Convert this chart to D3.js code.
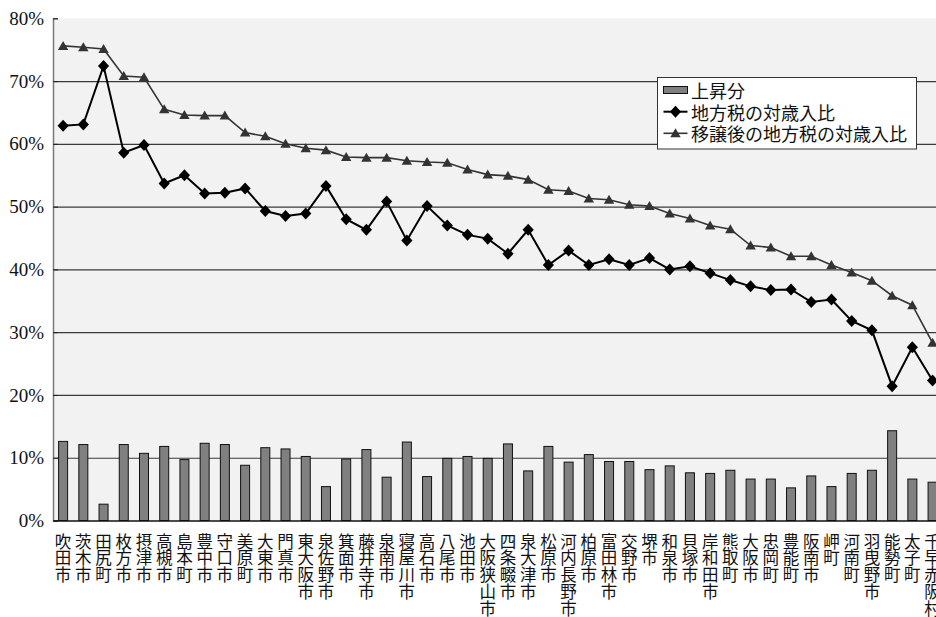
<!DOCTYPE html>
<html>
<head>
<meta charset="utf-8">
<script src="https://cdn.jsdelivr.net/npm/d3@7"></script>
<style>
  html, body { margin: 0; padding: 0; background: #fff; }
  svg { display: block; }
</style>
</head>
<body>
<div id="chart"></div>
<script>
// Municipalities in Osaka prefecture, ordered by the post-transfer ratio
const categories = [
  "吹田市", "茨木市", "田尻町", "枚方市", "摂津市", "高槻市", "島本町", "豊中市",
  "守口市", "美原町", "大東市", "門真市", "東大阪市", "泉佐野市", "箕面市", "藤井寺市",
  "泉南市", "寝屋川市", "高石市", "八尾市", "池田市", "大阪狭山市", "四条畷市", "泉大津市",
  "松原市", "河内長野市", "柏原市", "富田林市", "交野市", "堺市", "和泉市", "貝塚市",
  "岸和田市", "熊取町", "大阪市", "忠岡町", "豊能町", "阪南市", "岬町", "河南町",
  "羽曳野市", "能勢町", "太子町", "千早赤阪村"
];

// 上昇分 (percentage points)
const increase = [
  12.6, 12.1, 2.6, 12.1, 10.7, 11.8, 9.7, 12.3,
  12.1, 8.8, 11.6, 11.4, 10.2, 5.4, 9.8, 11.3,
  6.9, 12.5, 7.0, 9.9, 10.2, 9.9, 12.2, 7.9,
  11.8, 9.3, 10.5, 9.4, 9.4, 8.1, 8.7, 7.6,
  7.5, 8.0, 6.6, 6.6, 5.2, 7.1, 5.4, 7.5,
  8.0, 14.3, 6.6, 6.1
];

// 地方税の対歳入比 (%)
const localTaxRatio = [
  62.9, 63.1, 72.4, 58.6, 59.8, 53.7, 55.0, 52.1,
  52.2, 52.9, 49.3, 48.5, 48.9, 53.3, 48.0, 46.3,
  50.8, 44.6, 50.1, 47.0, 45.5, 44.9, 42.5, 46.3,
  40.7, 43.0, 40.7, 41.6, 40.7, 41.8, 40.0, 40.5,
  39.4, 38.3, 37.3, 36.7, 36.8, 34.8, 35.2, 31.8,
  30.3, 21.4, 27.6, 22.3
];

// 移譲後の地方税の対歳入比 (%)
const afterTransferRatio = [
  75.6, 75.4, 75.1, 70.8, 70.6, 65.5, 64.6, 64.5,
  64.5, 61.8, 61.2, 60.0, 59.3, 59.0, 57.9, 57.8,
  57.8, 57.3, 57.1, 57.0, 55.9, 55.1, 54.9, 54.3,
  52.7, 52.5, 51.3, 51.1, 50.3, 50.1, 48.9, 48.1,
  47.0, 46.4, 43.8, 43.5, 42.1, 42.1, 40.7, 39.5,
  38.2, 35.8, 34.3, 28.3
];

const yTicks = [0, 10, 20, 30, 40, 50, 60, 70, 80];
const gridTicks = [10, 20, 30, 40, 50, 60, 70];

const legendLabels = ["上昇分", "地方税の対歳入比", "移譲後の地方税の対歳入比"];

const W = 936, H = 617;
const plotLeft = 53, plotTop = 18.3, plotBottom = 520.5;
const bandStep = 20.22;
const plotRight = plotLeft + categories.length * bandStep;

const jpFont = "'Noto Sans CJK JP', 'Noto Sans', sans-serif";
const numFont = "'Liberation Serif', 'DejaVu Serif', serif";

const svg = d3.select("#chart").append("svg")
  .attr("width", W).attr("height", H)
  .attr("viewBox", `0 0 ${W} ${H}`);

const x = d3.scaleBand()
  .domain(categories)
  .range([plotLeft, plotRight])
  .padding(0);

const y = d3.scaleLinear()
  .domain([0, 80])
  .range([plotBottom, plotTop]);

// plot background
svg.append("rect")
  .attr("x", plotLeft).attr("y", plotTop)
  .attr("width", plotRight - plotLeft)
  .attr("height", plotBottom - plotTop)
  .attr("fill", "#f2f2f2");

// horizontal gridlines
svg.append("g")
  .attr("transform", `translate(${plotLeft},0)`)
  .call(d3.axisLeft(y).tickValues(gridTicks).tickSize(-(plotRight - plotLeft)).tickFormat(""))
  .call(g => g.select(".domain").remove())
  .call(g => g.selectAll(".tick line").attr("stroke", "#3a3a3a").attr("stroke-width", 1.2));

// bars
const cx = d => x(d) + x.bandwidth() / 2;
const barW = 9;
svg.append("g")
  .selectAll("rect")
  .data(categories)
  .join("rect")
  .attr("x", d => cx(d) - barW / 2)
  .attr("y", (d, i) => y(increase[i]))
  .attr("width", barW)
  .attr("height", (d, i) => y(0) - y(increase[i]))
  .attr("fill", "#808080")
  .attr("stroke", "#111")
  .attr("stroke-width", 1);

// y axis
const yAxis = svg.append("g")
  .attr("transform", `translate(${plotLeft},0)`)
  .call(d3.axisLeft(y).tickValues(yTicks).tickSize(-5).tickPadding(9).tickFormat(d => d + "%"));
yAxis.select(".domain").attr("stroke", "#7a7a7a").attr("stroke-width", 1.5);
yAxis.selectAll(".tick line").attr("stroke", "#222");
yAxis.selectAll(".tick text")
  .attr("font-family", numFont)
  .attr("font-size", 19)
  .attr("fill", "#111");

// x axis baseline
svg.append("g")
  .attr("transform", `translate(0,${plotBottom})`)
  .call(d3.axisBottom(x).tickSize(0).tickFormat(""))
  .call(g => g.select(".domain").attr("stroke", "#111").attr("stroke-width", 1.5));

// vertical category labels, one character per row
const labelTop = 540.7, rowStep = 16.7;
svg.append("g")
  .selectAll("text")
  .data(categories)
  .join("text")
  .attr("font-family", jpFont)
  .attr("font-size", 16.5)
  .attr("fill", "#111")
  .attr("text-anchor", "middle")
  .each(function(d) {
    const t = d3.select(this);
    Array.from(d).forEach((ch, k) => {
      t.append("tspan")
        .attr("x", cx(d))
        .attr("y", labelTop + k * rowStep)
        .attr("dominant-baseline", "central")
        .text(ch);
    });
  });

// line series
const lineGen = vals => d3.line()
  .x((d, i) => cx(categories[i]))
  .y(d => y(d))(vals);

svg.append("path")
  .attr("d", lineGen(afterTransferRatio))
  .attr("fill", "none")
  .attr("stroke", "#333")
  .attr("stroke-width", 1.6);

svg.append("path")
  .attr("d", lineGen(localTaxRatio))
  .attr("fill", "none")
  .attr("stroke", "#000")
  .attr("stroke-width", 2);

const trianglePath = "M0,-5 L5.2,4 L-5.2,4 Z";
const diamondPath = "M0,-6 L5.6,0 L0,6 L-5.6,0 Z";

svg.append("g")
  .selectAll("path")
  .data(afterTransferRatio)
  .join("path")
  .attr("transform", (d, i) => `translate(${cx(categories[i])},${y(d)})`)
  .attr("d", trianglePath)
  .attr("fill", "#333");

svg.append("g")
  .selectAll("path")
  .data(localTaxRatio)
  .join("path")
  .attr("transform", (d, i) => `translate(${cx(categories[i])},${y(d)})`)
  .attr("d", diamondPath)
  .attr("fill", "#000");

// legend
const lg = svg.append("g").attr("transform", "translate(657.5,77.5)");
lg.append("rect")
  .attr("width", 259).attr("height", 71.5)
  .attr("fill", "#fff").attr("stroke", "#333").attr("stroke-width", 1);

const rowY = [12.5, 34.2, 55.8];
// bar swatch
lg.append("rect")
  .attr("x", 6).attr("y", rowY[0] - 3.5).attr("width", 24).attr("height", 7)
  .attr("fill", "#808080").attr("stroke", "#111").attr("stroke-width", 1);
// diamond line swatch
lg.append("line").attr("x1", 6).attr("x2", 30).attr("y1", rowY[1]).attr("y2", rowY[1])
  .attr("stroke", "#000").attr("stroke-width", 2);
lg.append("path").attr("transform", `translate(18,${rowY[1]})`).attr("d", diamondPath).attr("fill", "#000");
// triangle line swatch
lg.append("line").attr("x1", 6).attr("x2", 30).attr("y1", rowY[2]).attr("y2", rowY[2])
  .attr("stroke", "#333").attr("stroke-width", 1.6);
lg.append("path").attr("transform", `translate(18,${rowY[2]})`).attr("d", trianglePath).attr("fill", "#333");

lg.selectAll("text.lbl")
  .data(legendLabels)
  .join("text")
  .attr("class", "lbl")
  .attr("x", 33.5)
  .attr("y", (d, i) => rowY[i])
  .attr("dominant-baseline", "central")
  .attr("font-family", jpFont)
  .attr("font-size", 18)
  .attr("fill", "#111")
  .text(d => d);
</script>
</body>
</html>
